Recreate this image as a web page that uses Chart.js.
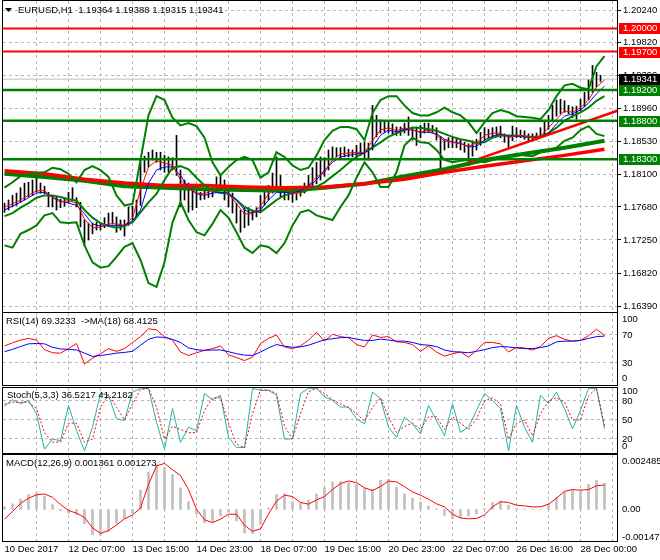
<!DOCTYPE html>
<html>
<head>
<meta charset="utf-8">
<script src="https://cdn.jsdelivr.net/npm/chart.js@4.4.1/dist/chart.umd.min.js"></script>
<style>
body{margin:0;background:#fff;}
#wrap{position:relative;width:660px;height:560px;overflow:hidden;background:#fff;}
canvas{position:absolute;left:0;}
</style>
</head>
<body>
<div id="wrap">
<canvas id="price" width="660" height="314" style="top:0px"></canvas>
<canvas id="rsi" width="660" height="75" style="top:312px"></canvas>
<canvas id="stoch" width="660" height="69" style="top:386px"></canvas>
<canvas id="macd" width="660" height="107" style="top:453px"></canvas>
</div>
<script>
// ---- data (bar index = hours since chart start) ----
const xLabels = ['10 Dec 2017','12 Dec 07:00','13 Dec 15:00','14 Dec 23:00','18 Dec 07:00',
  '19 Dec 15:00','20 Dec 23:00','22 Dec 07:00','26 Dec 16:00','28 Dec 00:00'];
const priceTicks = [1.20240,1.19820,1.19390,1.18960,1.18530,1.18100,1.17680,1.17250,1.16820,1.16390];

// every 2nd H1 bar
const barHigh = [
1.1773,1.1777,1.1783,1.1786,1.1793,1.1799,1.1800,1.1803,1.1809,1.1799,
1.1795,1.1787,1.1783,1.1781,1.1778,1.1780,1.1787,1.1793,1.1780,1.1774,
1.1751,1.1747,1.1747,1.1748,1.1748,1.1754,1.1760,1.1761,1.1755,1.1751,
1.1751,1.1768,1.1769,1.1777,1.1829,1.1834,1.1839,1.1842,1.1839,1.1839,
1.1835,1.1833,1.1832,1.1861,1.1816,1.1803,1.1799,1.1795,1.1790,1.1787,
1.1790,1.1790,1.1795,1.1807,1.1809,1.1803,1.1793,1.1786,1.1773,1.1764,
1.1767,1.1767,1.1764,1.1767,1.1783,1.1793,1.1796,1.1812,1.1833,1.1809,
1.1793,1.1790,1.1787,1.1790,1.1795,1.1799,1.1809,1.1819,1.1826,1.1833,
1.1832,1.1842,1.1846,1.1845,1.1845,1.1846,1.1843,1.1842,1.1848,1.1851,
1.1852,1.1851,1.1900,1.1887,1.1881,1.1878,1.1878,1.1876,1.1872,1.1872,
1.1877,1.1885,1.1872,1.1872,1.1874,1.1877,1.1877,1.1874,1.1871,1.1860,
1.1855,1.1858,1.1859,1.1858,1.1855,1.1852,1.1850,1.1854,1.1856,1.1865,
1.1871,1.1869,1.1871,1.1872,1.1873,1.1863,1.1860,1.1873,1.1871,1.1868,
1.1867,1.1863,1.1863,1.1864,1.1871,1.1880,1.1887,1.1900,1.1907,1.1908,
1.1906,1.1900,1.1898,1.1899,1.1908,1.1917,1.1933,1.1952,1.1943,1.1939];
const barLow = [
1.1761,1.1764,1.1768,1.1770,1.1774,1.1777,1.1781,1.1783,1.1787,1.1786,
1.1785,1.1768,1.1768,1.1764,1.1767,1.1769,1.1773,1.1776,1.1768,1.1742,
1.1718,1.1725,1.1733,1.1738,1.1738,1.1741,1.1743,1.1746,1.1735,1.1738,
1.1730,1.1744,1.1751,1.1755,1.1770,1.1813,1.1820,1.1829,1.1826,1.1816,
1.1813,1.1813,1.1816,1.1809,1.1768,1.1777,1.1761,1.1764,1.1767,1.1777,
1.1778,1.1780,1.1781,1.1787,1.1790,1.1777,1.1768,1.1760,1.1747,1.1735,
1.1741,1.1744,1.1751,1.1755,1.1761,1.1770,1.1777,1.1786,1.1793,1.1781,
1.1777,1.1777,1.1774,1.1777,1.1782,1.1786,1.1790,1.1794,1.1798,1.1803,
1.1808,1.1816,1.1829,1.1833,1.1832,1.1833,1.1833,1.1833,1.1829,1.1835,
1.1832,1.1829,1.1842,1.1859,1.1864,1.1865,1.1864,1.1863,1.1861,1.1861,
1.1864,1.1861,1.1855,1.1848,1.1858,1.1864,1.1865,1.1864,1.1855,1.1816,
1.1842,1.1845,1.1845,1.1845,1.1842,1.1839,1.1822,1.1834,1.1842,1.1848,
1.1855,1.1858,1.1858,1.1859,1.1858,1.1852,1.1845,1.1854,1.1858,1.1858,
1.1856,1.1854,1.1854,1.1855,1.1858,1.1863,1.1869,1.1880,1.1886,1.1889,
1.1891,1.1889,1.1884,1.1882,1.1893,1.1898,1.1907,1.1917,1.1924,1.1931];

// indicator lines, every 4th bar
const maRed = [
1.1768,1.1772,1.1777,1.1783,1.1789,1.1789,1.1780,1.1774,1.1776,1.1773,
1.1752,1.1741,1.1742,1.1746,1.1746,1.1744,1.1754,1.1790,1.1820,1.1828,
1.1825,1.1822,1.1803,1.1793,1.1786,1.1785,1.1790,1.1794,1.1785,1.1772,
1.1759,1.1759,1.1769,1.1785,1.1794,1.1791,1.1786,1.1787,1.1796,1.1807,
1.1813,1.1829,1.1837,1.1838,1.1839,1.1839,1.1854,1.1868,1.1871,1.1867,
1.1871,1.1868,1.1865,1.1868,1.1861,1.1854,1.1852,1.1850,1.1847,1.1851,
1.1861,1.1864,1.1864,1.1858,1.1861,1.1860,1.1858,1.1860,1.1871,1.1882,
1.1893,1.1891,1.1897,1.1907,1.1924,1.1933];
const maBlue = [
1.1764,1.1769,1.1774,1.1780,1.1786,1.1787,1.1781,1.1776,1.1773,1.1770,
1.1759,1.1746,1.1743,1.1744,1.1744,1.1744,1.1750,1.1764,1.1799,1.1816,
1.1820,1.1820,1.1809,1.1793,1.1785,1.1783,1.1786,1.1787,1.1786,1.1777,
1.1764,1.1760,1.1764,1.1777,1.1787,1.1787,1.1786,1.1789,1.1795,1.1803,
1.1816,1.1826,1.1833,1.1835,1.1837,1.1838,1.1846,1.1861,1.1868,1.1865,
1.1869,1.1868,1.1865,1.1865,1.1863,1.1856,1.1852,1.1851,1.1846,1.1847,
1.1855,1.1860,1.1863,1.1860,1.1860,1.1859,1.1858,1.1859,1.1864,1.1876,
1.1886,1.1889,1.1894,1.1903,1.1915,1.1925];
const bbUpper = [
1.1793,1.1800,1.1808,1.1811,1.1812,1.1813,1.1819,1.1817,1.1811,1.1800,
1.1816,1.1821,1.1816,1.1807,1.1783,1.1770,1.1772,1.1829,1.1887,1.1912,
1.1907,1.1884,1.1874,1.1877,1.1873,1.1858,1.1826,1.1809,1.1820,1.1829,
1.1833,1.1829,1.1806,1.1813,1.1839,1.1833,1.1822,1.1816,1.1819,1.1835,
1.1855,1.1867,1.1872,1.1872,1.1869,1.1855,1.1890,1.1907,1.1912,1.1912,
1.1900,1.1890,1.1887,1.1887,1.1891,1.1897,1.1891,1.1887,1.1878,1.1864,
1.1878,1.1890,1.1894,1.1891,1.1886,1.1885,1.1884,1.1882,1.1894,1.1912,
1.1926,1.1928,1.1923,1.1921,1.1951,1.1964];
const bbMid = [
1.1756,1.1760,1.1767,1.1773,1.1780,1.1783,1.1783,1.1781,1.1778,1.1776,
1.1764,1.1754,1.1747,1.1743,1.1741,1.1743,1.1748,1.1761,1.1774,1.1785,
1.1803,1.1819,1.1821,1.1817,1.1806,1.1796,1.1789,1.1786,1.1785,1.1777,
1.1768,1.1763,1.1761,1.1769,1.1777,1.1783,1.1786,1.1787,1.1790,1.1794,
1.1800,1.1808,1.1816,1.1825,1.1833,1.1839,1.1845,1.1852,1.1859,1.1864,
1.1868,1.1871,1.1871,1.1869,1.1867,1.1863,1.1859,1.1856,1.1854,1.1851,
1.1852,1.1858,1.1861,1.1861,1.1861,1.1860,1.1859,1.1860,1.1864,1.1871,
1.1880,1.1886,1.1891,1.1897,1.1906,1.1912];
const bbLower = [
1.1718,1.1715,1.1733,1.1738,1.1744,1.1757,1.1760,1.1748,1.1747,1.1748,
1.1718,1.1696,1.1689,1.1691,1.1703,1.1716,1.1721,1.1699,1.1669,1.1664,
1.1696,1.1748,1.1774,1.1751,1.1735,1.1731,1.1746,1.1764,1.1754,1.1735,
1.1715,1.1708,1.1718,1.1716,1.1708,1.1721,1.1744,1.1761,1.1764,1.1757,
1.1754,1.1751,1.1768,1.1783,1.1806,1.1826,1.1813,1.1794,1.1794,1.1813,
1.1848,1.1858,1.1852,1.1851,1.1842,1.1829,1.1826,1.1828,1.1829,1.1829,
1.1826,1.1829,1.1832,1.1834,1.1837,1.1835,1.1834,1.1839,1.1841,1.1845,
1.1854,1.1858,1.1868,1.1873,1.1863,1.1860];

// slow averages, every 20th bar
const slowRed = [1.1815,1.1811,1.1804,1.1799,1.1796,1.1796,1.1794,1.1793,1.1794,1.1798,1.1804,1.1813,1.1821,1.1828,1.1835,1.1843];
const slowGreen = [1.1811,1.1807,1.1802,1.1795,1.1793,1.1791,1.1790,1.1789,1.1793,1.1798,1.1808,1.1817,1.1829,1.1837,1.1845,1.1854];

// objects on the chart
const redLevels = [1.20000, 1.19700];
const greenLevels = [1.19200, 1.18800, 1.18300];
const lastPrice = 1.19341;
const trendBars = [232, 306.5];
const trendPrices = [1.1826, 1.1893];

// sub windows, every 4th bar
const rsi = [
54.4,58.8,62.7,65.1,62.7,49,44.6,44,50.5,57.8,
28.5,36.8,43.2,50.5,46.6,50.5,59.3,67.6,78.8,77.3,
67.6,62.7,45.6,40.7,44.6,48,50.5,54.4,41.7,37.8,
33.4,38.3,57.8,65.1,70,52.9,50.5,54.4,62.7,73.9,
61.2,71,67.6,66.1,56.3,52.9,70,66.6,67.6,60.2,
59.3,56.3,46.6,54.4,45.6,39.7,43.2,45.6,38.3,48,
59.3,59.3,57.3,45.6,52.4,51.5,48.5,53.4,65.1,69,
63.7,61.2,62.2,69,78.3,69.3];
const rsiMa = [
46.1,49.5,53.4,57.3,57.8,57.3,52.4,50,49.5,48.5,
44.1,39.3,40.7,42.2,44.1,45.1,46.6,55.4,63.7,67.1,
66.6,63.7,59.3,51.5,49,48,48.5,48.5,46.1,43.2,
41.2,40.7,45.6,51.5,56.3,53.9,52.4,52.9,55.4,59.3,
63.2,64.6,66.1,66.6,64.1,62.2,62.2,64.1,62.7,61.2,
61.2,59.3,56.3,55.4,53.4,48.5,46.1,45.6,44.6,46.6,
49,51.9,53.4,52.9,51.5,50.5,50.5,51.9,54.4,60.2,
61.2,61.2,62.2,65.1,67.6,68.4];
const stochK = [
71.5,82,75.8,81,59.8,4,20,17.3,73,33.3,
1.4,38.6,91.7,89,51.9,49.2,94,100,100,46.5,
4,68,14.7,38.6,33.3,91.7,82,89,22.7,6.7,
6.7,99.6,97,97,89,20,20,91.7,100,100,
86.4,81,70.4,70.4,51.9,43.9,94,83.7,38.6,22.7,
54.5,43.9,28,73,49.2,25.3,75.8,30.6,38.6,65.1,
91.7,81,68,1.4,73,38.6,14.7,89,75.8,94,
68,35.9,65.1,100,100,36.5];
const stochD = [
75,78,78,78,68,30,15,15,45,45,
15,20,70,90,70,50,75,98,100,70,
20,40,35,30,30,65,85,85,45,12,
6,60,97,97,92,40,20,60,95,100,
92,82,75,70,60,48,70,85,55,30,
40,45,35,55,55,35,55,45,35,52,
80,85,75,20,45,50,25,60,80,85,
78,50,50,88,100,41.2];
const macdMain = [
0.00013,0.00029,0.00054,0.00076,0.00085,0.00067,0.00025,-0.00007,-0.00020,-0.00027,
-0.00074,-0.00132,-0.00134,-0.00114,-0.00072,-0.00047,-0.00020,0.00100,0.00194,0.00235,
0.00217,0.00181,0.00112,0.00040,-0.00024,-0.00069,-0.00067,-0.00033,-0.00014,-0.00060,
-0.00123,-0.00125,-0.00078,0.00007,0.00076,0.00081,0.00040,0.00033,0.00049,0.00080,
0.00112,0.00143,0.00145,0.00139,0.00129,0.00107,0.00105,0.00152,0.00156,0.00116,
0.00081,0.00058,0.00038,0.00018,0.00002,-0.00031,-0.00049,-0.00042,-0.00034,-0.00024,
0.00004,0.00036,0.00040,0.00022,0.00004,0.00002,0.00002,0.00001,0.00027,0.00063,
0.00091,0.00103,0.00098,0.00130,0.00150,0.00136];
const macdSignal = [
-0.00051,-0.00011,0.00031,0.00058,0.00076,0.00080,0.00063,0.00025,-0.00005,-0.00020,
-0.00042,-0.00096,-0.00125,-0.00110,-0.00081,-0.00049,-0.00029,0.00007,0.00130,0.00226,
0.00239,0.00206,0.00176,0.00103,0.00000,-0.00054,-0.00069,-0.00051,-0.00025,-0.00025,
-0.00083,-0.00114,-0.00101,-0.00024,0.00043,0.00074,0.00067,0.00036,0.00027,0.00049,
0.00067,0.00103,0.00134,0.00148,0.00139,0.00112,0.00098,0.00119,0.00147,0.00143,
0.00118,0.00091,0.00074,0.00053,0.00029,0.00013,-0.00025,-0.00045,-0.00049,-0.00047,
-0.00029,0.00013,0.00040,0.00036,0.00022,0.00018,0.00013,0.00013,0.00027,0.00058,
0.00094,0.00103,0.00100,0.00103,0.00123,0.00127];

// ---- setup ----
const FONT_FAMILY = 'Liberation Sans';
const FONT_SIZE = 9.5;
const CSS_FONT = FONT_SIZE + 'px "' + FONT_FAMILY + '"';
Chart.defaults.font.family = FONT_FAMILY;
Chart.defaults.font.size = FONT_SIZE;
Chart.defaults.color = '#000';

const GRID = '#b8b8b8';
const GREEN = '#008000';
const X_MIN = -0.75, X_MAX = 306.25;
const BAR_STEP = 2, LINE_STEP = 4, SLOW_STEP = 20, GRID_STEP = 16, LABEL_EVERY = 32;

const gridBars = [];
for (let b = 0; b <= 304; b += GRID_STEP) gridBars.push(b);

function pts(arr, step){
    return arr.map((v, i) => ({x: i * step, y: v}));
}
function flat(v){
    return [{x: X_MIN, y: v}, {x: X_MAX, y: v}];
}
function line(data, color, width, order, dash){
    return {type:'line', data:data, borderColor:color, borderWidth:width, pointRadius:0,
        tension:0, fill:false, order:order, borderDash:dash || []};
}

function xScale(showLabels){
    return {
        type:'linear', min:X_MIN, max:X_MAX, offset:false,
        afterBuildTicks: s => { s.ticks = gridBars.map(v => ({value:v})); },
        afterFit: s => { s.height = showLabels ? 19 : 0; s.paddingLeft = 0; s.paddingRight = 0; },
        grid:{color: c => (c.tick && c.tick.value === 0) ? 'rgba(0,0,0,0)' : GRID,
              drawTicks:false, offset:false},
        border:{display:false, dash:[3,3]},
        ticks:{display:showLabels, autoSkip:false, maxRotation:0, minRotation:0, align:'start', padding:3,
               callback: v => (v % LABEL_EVERY === 0 ? (xLabels[v / LABEL_EVERY] || '') : '')}
    };
}

function yScale(min, max, gridAt){
    return {
        position:'right', min:min, max:max, beginAtZero:false,
        afterBuildTicks: s => { s.ticks = gridAt.map(v => ({value:v})); },
        afterFit: s => { s.width = 43; s.paddingTop = 0; s.paddingBottom = 0; },
        grid:{color:GRID, drawTicks:false, display:gridAt.length > 0},
        border:{display:false, dash:[3,3]},
        ticks:{display:false}
    };
}

// frame, side labels, level boxes and titles
const panelDecor = {
    id:'panelDecor',
    afterDraw(chart, args, opts){
        const ctx = chart.ctx;
        const a = chart.chartArea;
        const ys = chart.scales.y;
        ctx.save();
        ctx.strokeStyle = '#000';
        ctx.lineWidth = 1;
        ctx.strokeRect(a.left - 0.5, a.top - 0.5, a.right - a.left + 1, a.bottom - a.top + 1);
        ctx.font = CSS_FONT;
        ctx.textBaseline = 'middle';
        ctx.textAlign = 'left';
        (opts.labels || []).forEach(l => {
            ctx.fillStyle = '#000';
            ctx.fillText(l.t, a.right + 5, ys.getPixelForValue(l.v) + (l.dy || 0));
        });
        (opts.boxes || []).forEach(b => {
            const y = Math.round(ys.getPixelForValue(b.v));
            ctx.fillStyle = b.bg;
            ctx.fillRect(a.right + 2, y - 5, 42, 11);
            ctx.fillStyle = '#fff';
            ctx.fillText(b.v.toFixed(5), a.right + 6, y + 0.5);
        });
        if (opts.title){
            let x = a.left + opts.tx;
            const y = a.top + opts.ty;
            if (opts.arrow){
                ctx.fillStyle = '#000';
                ctx.beginPath();
                ctx.moveTo(x, y - 2); ctx.lineTo(x + 7, y - 2); ctx.lineTo(x + 3.5, y + 2);
                ctx.closePath(); ctx.fill();
                x += 13;
            }
            ctx.fillStyle = '#000';
            ctx.fillText(opts.title, x, y);
        }
        ctx.restore();
    }
};

function baseOptions(padding, scales, decor){
    return {
        responsive:false, animation:false, events:[],
        layout:{padding:padding},
        scales:scales,
        plugins:{legend:{display:false}, tooltip:{enabled:false}, panelDecor:decor}
    };
}

// ---- main price window ----
const priceBars = barHigh.map((h, k) => ({x: k * BAR_STEP, y: [barLow[k], h]}));
const mainSets = [];
redLevels.forEach(v => mainSets.push(line(flat(v), '#ff0000', 2, 4)));
greenLevels.forEach(v => mainSets.push(line(flat(v), GREEN, 2.5, 4)));
mainSets.push(line([{x:trendBars[0], y:trendPrices[0]}, {x:trendBars[1], y:trendPrices[1]}], '#ff0000', 2.5, 5));
mainSets.push(line(pts(maRed, LINE_STEP), '#ff0000', 1, 8));
mainSets.push(line(pts(maBlue, LINE_STEP), '#0000ff', 1, 9));
mainSets.push(line(pts(bbUpper, LINE_STEP), GREEN, 2, 11));
mainSets.push(line(pts(bbMid, LINE_STEP), GREEN, 2, 11));
mainSets.push(line(pts(bbLower, LINE_STEP), GREEN, 2, 11));
mainSets.push(line(pts(slowRed, SLOW_STEP), '#ff0000', 3.5, 13));
mainSets.push(line(pts(slowGreen, SLOW_STEP), GREEN, 4, 14));
mainSets.push({type:'bar', data:priceBars, backgroundColor:'#000', borderWidth:0,
    barThickness:1, grouped:false, order:20});
mainSets.push(line(flat(lastPrice), '#c0c0c0', 1, 21));

const priceY = {
    position:'right', min:1.16314, max:1.20357, beginAtZero:false,
    afterBuildTicks: s => { s.ticks = priceTicks.map(v => ({value:v})); },
    afterFit: s => { s.width = 43; s.paddingTop = 0; s.paddingBottom = 0; },
    grid:{color:GRID, drawTicks:true, tickLength:4, tickColor:'#000', tickBorderDash:[]},
    border:{display:false, dash:[3,3]},
    ticks:{padding:2, callback: v => Number(v).toFixed(5)}
};

new Chart(document.getElementById('price'), {
    type:'line',
    data:{datasets:mainSets},
    options:baseOptions({left:3, right:0, top:1, bottom:2}, {x:xScale(false), y:priceY},
        {title:'EURUSD,H1  1.19364 1.19388 1.19315 1.19341', tx:2, ty:9, arrow:true,
         boxes:[{v:redLevels[0], bg:'#ff0000'}, {v:redLevels[1], bg:'#ff0000'},
                {v:lastPrice, bg:'#000'},
                {v:greenLevels[0], bg:GREEN}, {v:greenLevels[1], bg:GREEN}, {v:greenLevels[2], bg:GREEN}]}),
    plugins:[panelDecor]
});

// ---- RSI ----
new Chart(document.getElementById('rsi'), {
    type:'line',
    data:{datasets:[
        line(pts(rsi, LINE_STEP), '#ff0000', 1, 2),
        line(pts(rsiMa, LINE_STEP), '#0000ff', 1, 1)
    ]},
    options:baseOptions({left:3, right:0, top:1, bottom:2}, {x:xScale(false), y:yScale(-1.5, 101.4, [30, 70])},
        {title:'RSI(14) 69.3233  ->MA(18) 68.4125', tx:3, ty:8,
         labels:[{v:100, t:'100', dy:5}, {v:70, t:'70'}, {v:30, t:'30'}, {v:0, t:'0', dy:-6}]}),
    plugins:[panelDecor]
});

// ---- Stochastic ----
new Chart(document.getElementById('stoch'), {
    type:'line',
    data:{datasets:[
        line(pts(stochD, LINE_STEP), '#ff0000', 1, 1, [2, 2]),
        line(pts(stochK, LINE_STEP), '#20b2aa', 1, 2)
    ]},
    options:baseOptions({left:3, right:0, top:2, bottom:2}, {x:xScale(false), y:yScale(-2.1, 100.5, [20, 50, 80])},
        {title:'Stoch(5,3,3) 36.5217 41.2182', tx:4, ty:7,
         labels:[{v:100, t:'100', dy:3}, {v:80, t:'80'}, {v:50, t:'50'}, {v:20, t:'20'}, {v:0, t:'0', dy:-5}]}),
    plugins:[panelDecor]
});

// ---- MACD ----
new Chart(document.getElementById('macd'), {
    type:'line',
    data:{datasets:[
        line(pts(macdSignal, LINE_STEP), '#ff0000', 1, 1),
        {type:'bar', data:pts(macdMain, LINE_STEP), backgroundColor:'#c0c0c0', borderWidth:0,
         barThickness:2, grouped:false, order:5}
    ]},
    options:baseOptions({left:3, right:0, top:2, bottom:0}, {x:xScale(true), y:yScale(-0.001643, 0.002827, [])},
        {title:'MACD(12,26,9) 0.001361 0.001273', tx:3, ty:8,
         labels:[{v:0.002485, t:'0.002485'}, {v:0, t:'0.00'}, {v:-0.00147, t:'-0.00147'}]}),
    plugins:[panelDecor]
});
</script>
</body>
</html>
